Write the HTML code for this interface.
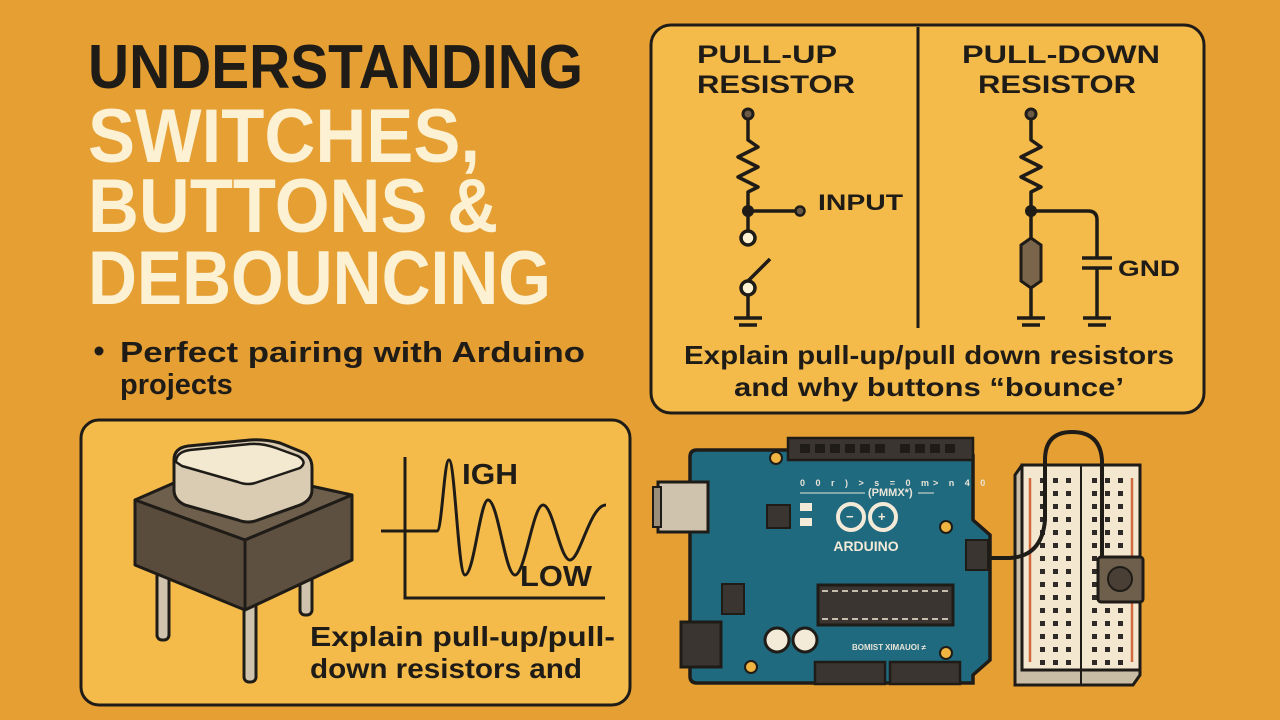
<!DOCTYPE html>
<html><head><meta charset="utf-8"><style>
html,body{margin:0;padding:0;background:#e59f33;}
svg{display:block;}
text{font-family:"Liberation Sans","DejaVu Sans",sans-serif;font-weight:bold;}
</style></head><body>
<svg width="1280" height="720" viewBox="0 0 1280 720" xmlns="http://www.w3.org/2000/svg">
<rect width="1280" height="720" fill="#e59f33"/>
<!-- Title -->
<text x="88" y="88" font-size="62" fill="#1f1c18" textLength="495" lengthAdjust="spacingAndGlyphs">UNDERSTANDING</text>
<text x="88" y="162" font-size="76" fill="#fdf1d3" textLength="392" lengthAdjust="spacingAndGlyphs">SWITCHES,</text>
<text x="88" y="232" font-size="76" fill="#fdf1d3" textLength="410" lengthAdjust="spacingAndGlyphs">BUTTONS &amp;</text>
<text x="88" y="304" font-size="76" fill="#fdf1d3" textLength="463" lengthAdjust="spacingAndGlyphs">DEBOUNCING</text>
<circle cx="99" cy="351" r="4.5" fill="#1f1c18"/>
<text x="120" y="362" font-size="29" fill="#1f1c18" textLength="465" lengthAdjust="spacingAndGlyphs" style="font-weight:600">Perfect pairing with Arduino</text>
<text x="120" y="394" font-size="29" fill="#1f1c18" style="font-weight:600">projects</text>

<!-- Top-right panel -->
<rect x="651" y="25" width="553" height="388" rx="20" fill="#f4bb4a" stroke="#1f1c18" stroke-width="3"/>
<line x1="918" y1="27" x2="918" y2="328" stroke="#1f1c18" stroke-width="3"/>
<text x="697" y="63" font-size="25" fill="#1f1c18" textLength="140" lengthAdjust="spacingAndGlyphs">PULL-UP</text>
<text x="697" y="93" font-size="25" fill="#1f1c18" textLength="158" lengthAdjust="spacingAndGlyphs">RESISTOR</text>
<text x="962" y="63" font-size="25" fill="#1f1c18" textLength="198" lengthAdjust="spacingAndGlyphs">PULL-DOWN</text>
<text x="978" y="93" font-size="25" fill="#1f1c18" textLength="158" lengthAdjust="spacingAndGlyphs">RESISTOR</text>
<g stroke="#1f1c18" stroke-width="3.5" fill="none" stroke-linejoin="round">
 <path d="M748 118 V140 L758 147 L738 157 L758 167 L738 177 L758 187 L748 192 V231"/>
 <line x1="748" y1="211" x2="798" y2="211"/>
 <path d="M748 281 L770 259"/>
 <line x1="748" y1="295" x2="748" y2="318"/>
 <line x1="734" y1="318" x2="762" y2="318"/><line x1="739" y1="325" x2="757" y2="325"/>
 <path d="M1031 118 V140 L1041 147 L1021 157 L1041 167 L1021 177 L1041 187 L1031 192 V240"/>
 <path d="M1031 211 H1088 Q1097 211 1097 220 V258"/>
 <line x1="1082" y1="258" x2="1112" y2="258"/><line x1="1082" y1="268" x2="1112" y2="268"/>
 <line x1="1097" y1="268" x2="1097" y2="318"/>
 <line x1="1031" y1="284" x2="1031" y2="318"/>
 <line x1="1017" y1="318" x2="1045" y2="318"/><line x1="1022" y1="325" x2="1040" y2="325"/>
 <line x1="1083" y1="318" x2="1111" y2="318"/><line x1="1088" y1="325" x2="1106" y2="325"/>
</g>
<circle cx="748" cy="114" r="5" fill="#6b5a45" stroke="#1f1c18" stroke-width="3"/>
<circle cx="1031" cy="114" r="5" fill="#6b5a45" stroke="#1f1c18" stroke-width="3"/>
<circle cx="748" cy="211" r="6" fill="#1f1c18"/>
<circle cx="1031" cy="211" r="6" fill="#1f1c18"/>
<circle cx="800" cy="211" r="4.5" fill="#6b5a45" stroke="#1f1c18" stroke-width="2.5"/>
<circle cx="748" cy="238" r="7" fill="#fdf1d3" stroke="#1f1c18" stroke-width="3.5"/>
<circle cx="748" cy="288" r="7" fill="#fdf1d3" stroke="#1f1c18" stroke-width="3.5"/>
<path d="M1031 238 L1041 245 V281 L1031 288 L1021 281 V245 Z" fill="#7a644a" stroke="#1f1c18" stroke-width="3"/>
<text x="818" y="210" font-size="22" fill="#1f1c18" textLength="85" lengthAdjust="spacingAndGlyphs">INPUT</text>
<text x="1118" y="276" font-size="22" fill="#1f1c18" textLength="62" lengthAdjust="spacingAndGlyphs">GND</text>
<text x="929" y="364" font-size="26" fill="#1f1c18" text-anchor="middle" textLength="490" lengthAdjust="spacingAndGlyphs" style="font-weight:600">Explain pull-up/pull down resistors</text>
<text x="929" y="396" font-size="26" fill="#1f1c18" text-anchor="middle" textLength="390" lengthAdjust="spacingAndGlyphs" style="font-weight:600">and why buttons “bounce’</text>

<!-- Bottom-left panel -->
<rect x="81" y="420" width="549" height="285" rx="18" fill="#f4bb4a" stroke="#1f1c18" stroke-width="3"/>
<g stroke="#1f1c18" stroke-width="3" stroke-linejoin="round">
 <rect x="157" y="560" width="12" height="80" rx="5" fill="#cfc3ad"/>
 <rect x="300" y="560" width="12" height="55" rx="5" fill="#cfc3ad"/>
 <rect x="244" y="590" width="12" height="92" rx="5" fill="#cfc3ad"/>
 <path d="M135 500 L215 465 L352 495 L245 540 Z" fill="#6e5f4c"/>
 <path d="M135 500 L245 540 V610 L135 565 Z" fill="#5a4c3c"/>
 <path d="M245 540 L352 495 V560 L245 610 Z" fill="#5e5040"/>
 <path d="M174 460 Q174 448 188 446 L250 440 Q265 439 280 443 L302 452 Q312 456 312 468 V490 Q312 500 300 505 L258 520 Q248 524 238 520 L185 505 Q174 500 174 490 Z" fill="#d9ccb3"/>
 <path d="M176 462 Q176 452 190 450 L250 444 Q262 443 276 448 L298 456 Q308 462 300 468 L258 482 Q248 486 238 482 L182 466 Z" fill="#f3e8d0" stroke-width="2.5"/>
</g>
<g stroke="#1f1c18" stroke-width="3" fill="none">
 <path d="M405 457 V598 H605"/>
 <path d="M381 531 H437 C442 531 444 460 449 460 C455 460 458 575 465 575 C474 575 480 500 488 500 C498 500 505 575 515 575 C525 575 533 505 543 505 C553 505 560 560 570 560 C580 560 590 505 606 505"/>
</g>
<text x="462" y="484" font-size="29" fill="#1f1c18" textLength="56" lengthAdjust="spacingAndGlyphs">IGH</text>
<text x="520" y="586" font-size="29" fill="#1f1c18" textLength="72" lengthAdjust="spacingAndGlyphs">LOW</text>
<text x="310" y="646" font-size="28" fill="#1f1c18" textLength="305" lengthAdjust="spacingAndGlyphs" style="font-weight:600">Explain pull-up/pull-</text>
<text x="310" y="678" font-size="28" fill="#1f1c18" textLength="272" lengthAdjust="spacingAndGlyphs" style="font-weight:600">down resistors and</text>

<!-- Arduino board -->
<path d="M697 450 H968 L973 455 V520 L990 535 V660 L973 675 V683 H697 Q690 683 690 676 V457 Q690 450 697 450 Z" fill="#1f6a7f" stroke="#1f1c18" stroke-width="3.5"/>
<rect x="788" y="438" width="185" height="22" fill="#3a3530" stroke="#1f1c18" stroke-width="2.5"/>
<g fill="#1f1c18"><rect x="800" y="444" width="10" height="9"/><rect x="815" y="444" width="10" height="9"/><rect x="830" y="444" width="10" height="9"/><rect x="845" y="444" width="10" height="9"/><rect x="860" y="444" width="10" height="9"/><rect x="875" y="444" width="10" height="9"/><rect x="900" y="444" width="10" height="9"/><rect x="915" y="444" width="10" height="9"/><rect x="930" y="444" width="10" height="9"/><rect x="945" y="444" width="10" height="9"/></g>
<circle cx="776" cy="458" r="6" fill="#f0b440" stroke="#1f1c18" stroke-width="2"/>
<circle cx="946" cy="527" r="6" fill="#f0b440" stroke="#1f1c18" stroke-width="2"/>
<circle cx="946" cy="653" r="6" fill="#f0b440" stroke="#1f1c18" stroke-width="2"/>
<circle cx="751" cy="667" r="6" fill="#f0b440" stroke="#1f1c18" stroke-width="2"/>
<text x="800" y="486" font-size="9" fill="#e8e4d8" font-weight="normal" letter-spacing="4">0 0 r ) > s = 0 m&gt; n 4 0</text>
<line x1="800" y1="493" x2="865" y2="493" stroke="#e8e4d8" stroke-width="1"/>
<text x="868" y="496" font-size="11" fill="#e8e4d8">(PMMX*)</text>
<line x1="918" y1="493" x2="934" y2="493" stroke="#e8e4d8" stroke-width="1"/>
<rect x="658" y="482" width="50" height="50" fill="#cfc3ad" stroke="#1f1c18" stroke-width="3"/>
<rect x="653" y="487" width="8" height="40" fill="#9a8e7a" stroke="#1f1c18" stroke-width="2"/>
<rect x="767" y="505" width="23" height="23" fill="#3a3530" stroke="#1f1c18" stroke-width="2"/>
<rect x="800" y="503" width="12" height="8" fill="#f3ead8"/><rect x="800" y="518" width="12" height="8" fill="#f3ead8"/>
<g stroke="#f3ead8" stroke-width="4" fill="none"><circle cx="851" cy="517" r="13"/><circle cx="883" cy="517" r="13"/></g>
<circle cx="851" cy="517" r="8" fill="#1f6a7f"/><circle cx="883" cy="517" r="8" fill="#1f6a7f"/>
<text x="846" y="521" font-size="13" fill="#f3ead8">−</text><text x="878" y="521" font-size="13" fill="#f3ead8">+</text>
<text x="866" y="551" font-size="14" fill="#f3ead8" text-anchor="middle">ARDUINO</text>
<rect x="966" y="540" width="22" height="30" fill="#3a3530" stroke="#1f1c18" stroke-width="2"/>
<rect x="722" y="584" width="22" height="30" fill="#3a3530" stroke="#1f1c18" stroke-width="2"/>
<rect x="818" y="585" width="135" height="40" fill="#3a3530" stroke="#1f1c18" stroke-width="3"/>
<line x1="822" y1="591" x2="950" y2="591" stroke="#f3ead8" stroke-width="1.5" stroke-dasharray="6 4"/>
<line x1="822" y1="619" x2="950" y2="619" stroke="#f3ead8" stroke-width="1.5" stroke-dasharray="6 4"/>
<rect x="681" y="622" width="40" height="45" fill="#3a3530" stroke="#1f1c18" stroke-width="3"/>
<circle cx="777" cy="640" r="12" fill="#f3ead8" stroke="#1f1c18" stroke-width="3"/>
<circle cx="805" cy="640" r="12" fill="#f3ead8" stroke="#1f1c18" stroke-width="3"/>
<text x="852" y="650" font-size="8" fill="#e8e4d8">BOMIST</text><text x="885" y="650" font-size="8" fill="#e8e4d8">XIMAUOI ≠</text>
<rect x="815" y="662" width="70" height="22" fill="#3a3530" stroke="#1f1c18" stroke-width="2.5"/>
<rect x="890" y="662" width="70" height="22" fill="#3a3530" stroke="#1f1c18" stroke-width="2.5"/>

<!-- Breadboard -->
<path d="M1015 475 L1022 465 H1140 V675 L1133 685 H1015 Z" fill="#c9bda5" stroke="#1f1c18" stroke-width="3"/>
<rect x="1022" y="465" width="118" height="205" fill="#f3e7d0" stroke="#1f1c18" stroke-width="3"/>
<line x1="1081" y1="465" x2="1081" y2="685" stroke="#1f1c18" stroke-width="2"/>
<line x1="1030" y1="478" x2="1030" y2="662" stroke="#d06a3c" stroke-width="2.5"/>
<line x1="1132" y1="478" x2="1132" y2="662" stroke="#d06a3c" stroke-width="2.5"/>
<defs><pattern id="h" x="1038" y="476" width="13" height="13" patternUnits="userSpaceOnUse"><rect x="2" y="2" width="5" height="5" fill="#2f2a28"/></pattern></defs>
<rect x="1038" y="476" width="40" height="190" fill="url(#h)"/>
<rect x="1086" y="476" width="40" height="190" fill="url(#h)"/>
<path d="M987 558 H1010 Q1042 556 1045 520 V460 Q1045 432 1072 432 Q1100 432 1102 460 V560" fill="none" stroke="#1f1c18" stroke-width="4"/>
<rect x="1098" y="557" width="45" height="45" rx="3" fill="#6e5f4c" stroke="#1f1c18" stroke-width="3"/>
<circle cx="1120" cy="579" r="12" fill="#4a3f34" stroke="#1f1c18" stroke-width="2"/>
</svg>
</body></html>
